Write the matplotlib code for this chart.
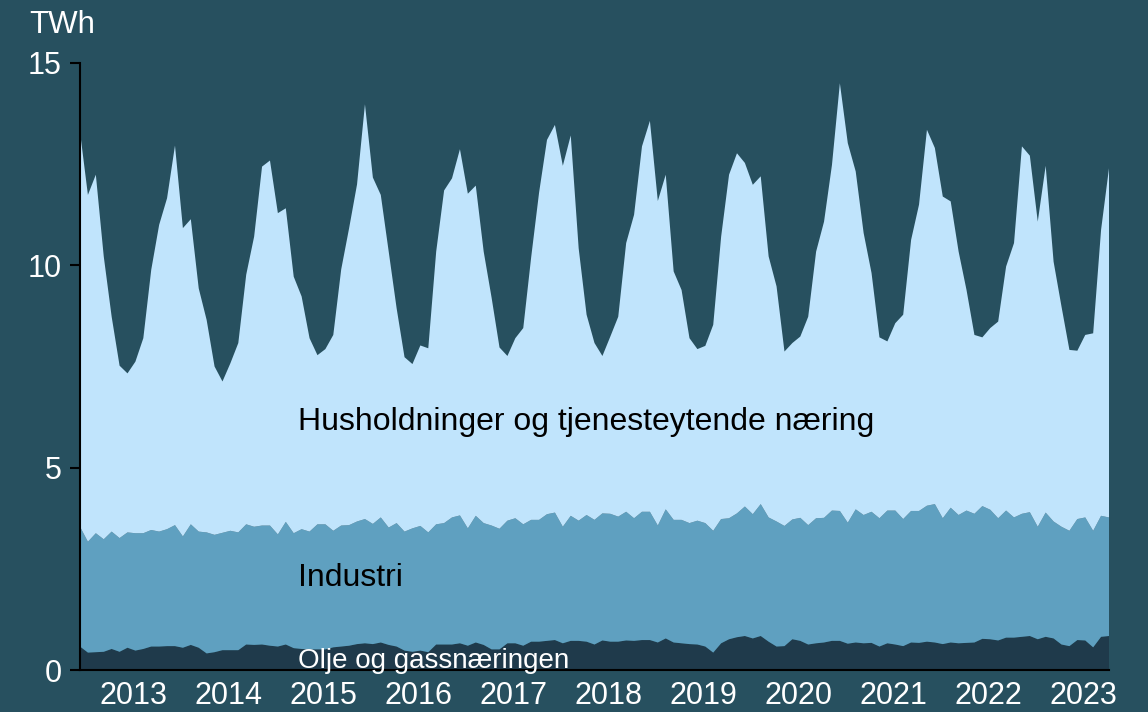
import numpy as np
import pandas as pd
import matplotlib
matplotlib.use("Agg")
import matplotlib.pyplot as plt

plt.rcParams["font.family"] = ["Liberation Sans", "DejaVu Sans"]

### Data (TWh per month)
months = pd.date_range("2013-01-01", periods=131, freq="MS")

olje = [0.58, 0.43, 0.44, 0.45, 0.52, 0.45, 0.55, 0.48, 0.52, 0.58, 0.58, 0.59,
        0.59, 0.55, 0.62, 0.55, 0.41, 0.44, 0.49, 0.49, 0.49, 0.63, 0.62, 0.63,
        0.60, 0.58, 0.63, 0.54, 0.52, 0.51, 0.51, 0.51, 0.56, 0.58, 0.60, 0.64,
        0.66, 0.64, 0.68, 0.62, 0.58, 0.48, 0.45, 0.48, 0.44, 0.63, 0.63, 0.63,
        0.66, 0.60, 0.68, 0.62, 0.51, 0.51, 0.66, 0.66, 0.60, 0.70, 0.70, 0.72,
        0.74, 0.66, 0.72, 0.72, 0.70, 0.63, 0.73, 0.70, 0.70, 0.73, 0.72, 0.74,
        0.74, 0.68, 0.78, 0.68, 0.66, 0.64, 0.63, 0.58, 0.43, 0.66, 0.76, 0.81,
        0.84, 0.78, 0.84, 0.70, 0.58, 0.59, 0.76, 0.72, 0.63, 0.66, 0.68, 0.72,
        0.72, 0.65, 0.68, 0.66, 0.67, 0.58, 0.66, 0.63, 0.59, 0.68, 0.67, 0.70,
        0.68, 0.64, 0.68, 0.66, 0.67, 0.68, 0.77, 0.76, 0.73, 0.80, 0.80, 0.82,
        0.84, 0.76, 0.82, 0.78, 0.63, 0.59, 0.74, 0.73, 0.56, 0.82, 0.84]

industri = [2.96, 2.74, 2.94, 2.78, 2.90, 2.81, 2.85, 2.90, 2.86, 2.88, 2.84, 2.89,
            2.99, 2.75, 2.98, 2.87, 2.99, 2.90, 2.90, 2.95, 2.91, 2.97, 2.92, 2.94,
            2.97, 2.77, 3.03, 2.84, 2.96, 2.91, 3.09, 3.09, 2.88, 2.99, 2.98, 3.03,
            3.07, 2.97, 3.09, 2.90, 3.05, 2.94, 3.05, 3.08, 2.96, 2.97, 3.00, 3.14,
            3.16, 2.90, 3.13, 3.01, 3.06, 2.98, 3.03, 3.09, 3.00, 3.01, 3.01, 3.13,
            3.15, 2.88, 3.09, 2.97, 3.13, 3.08, 3.14, 3.16, 3.09, 3.18, 3.03, 3.17,
            3.17, 2.89, 3.19, 3.03, 3.05, 2.99, 3.06, 3.05, 3.01, 3.07, 2.99, 3.06,
            3.20, 3.07, 3.26, 3.07, 3.09, 2.97, 2.96, 3.04, 2.95, 3.09, 3.08, 3.22,
            3.21, 2.99, 3.29, 3.17, 3.24, 3.17, 3.28, 3.31, 3.14, 3.25, 3.26, 3.36,
            3.42, 3.11, 3.33, 3.17, 3.27, 3.18, 3.28, 3.20, 3.02, 3.14, 2.97, 3.04,
            3.06, 2.78, 3.07, 2.89, 2.91, 2.85, 2.99, 3.04, 2.88, 2.99, 2.93]

husholdninger = [9.76, 8.57, 8.86, 6.99, 5.31, 4.26, 3.93, 4.24, 4.82, 6.43, 7.58, 8.18,
                 9.38, 7.62, 7.54, 6.01, 5.25, 4.16, 3.74, 4.14, 4.68, 6.17, 7.17, 8.87,
                 9.02, 7.94, 7.75, 6.34, 5.75, 4.78, 4.18, 4.33, 4.84, 6.33, 7.34, 8.33,
                 10.25, 8.56, 7.97, 6.82, 5.31, 4.31, 4.06, 4.46, 4.55, 6.74, 8.22, 8.38,
                 9.05, 8.27, 8.16, 6.71, 5.63, 4.48, 4.07, 4.45, 4.85, 6.49, 8.09, 9.25,
                 9.58, 8.92, 9.40, 6.73, 4.95, 4.37, 3.89, 4.38, 4.94, 6.64, 7.50, 9.03,
                 9.66, 8.02, 8.27, 6.14, 5.68, 4.57, 4.24, 4.38, 5.09, 6.98, 8.49, 8.90,
                 8.49, 8.14, 8.10, 6.45, 5.81, 4.31, 4.36, 4.48, 5.15, 6.59, 7.32, 8.54,
                 10.57, 9.38, 8.35, 6.97, 5.90, 4.47, 4.18, 4.63, 5.05, 6.70, 7.57, 9.29,
                 8.80, 7.95, 7.57, 6.51, 5.45, 4.42, 4.17, 4.49, 4.86, 6.03, 6.78, 9.08,
                 8.81, 7.54, 8.57, 6.42, 5.44, 4.47, 4.16, 4.51, 4.88, 7.07, 8.63]

years = ["2013", "2014", "2015", "2016", "2017", "2018",
         "2019", "2020", "2021", "2022", "2023"]

### Colours
bg = "#27505f"
c_olje = "#1f3a4b"
c_ind = "#5fa0c0"
c_hus = "#c0e4fc"

### Plotting
fig = plt.figure(figsize=(11.48, 7.12), dpi=100, facecolor=bg)
ax = fig.add_axes([80 / 1148, 42 / 712, 1029 / 1148, 607 / 712])
ax.set_facecolor(bg)

x = np.arange(len(months))
ax.stackplot(x, olje, industri, husholdninger,
             colors=[c_olje, c_ind, c_hus], linewidth=0)

ax.set_xlim(0, len(months) - 1)
ax.set_ylim(0, 15)

# year labels sit roughly mid-year
ax.set_xticks(np.arange(len(years)) * 12 + 6.8)
ax.set_xticklabels(years)
ax.set_yticks([0, 5, 10, 15])
ax.tick_params(axis="x", length=0, pad=8, labelsize=22, labelcolor="white")
ax.tick_params(axis="y", length=7, width=1.5, color="black", pad=6,
               labelsize=22, labelcolor="white")

for side in ["top", "right"]:
    ax.spines[side].set_visible(False)
ax.spines["left"].set_color("black")
ax.spines["bottom"].set_color("black")
ax.spines["left"].set_linewidth(1.5)
ax.spines["bottom"].set_linewidth(1.5)

# Labels
fig.text(29 / 1148, 1 - 33 / 712, "TWh", color="white", fontsize=22.5,
         va="baseline", ha="left")
ax.text(27.5, 6.13, "Husholdninger og tjenesteytende næring", fontsize=23,
        color="black", va="center", ha="left")
ax.text(27.5, 2.27, "Industri", fontsize=23, color="black", va="center", ha="left")
ax.text(27.5, 0.22, "Olje og gassnæringen", fontsize=20, color="white",
        va="center", ha="left", clip_on=False)

fig.savefig("out.png", dpi=100, facecolor=bg)
